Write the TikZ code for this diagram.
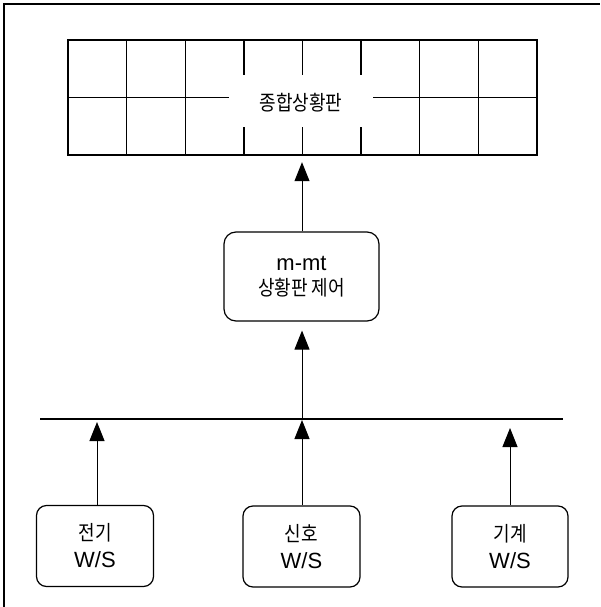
\documentclass[tikz,border=0pt]{standalone}
\usepackage{fontspec}
\usepackage{graphicx}
\setmainfont{Liberation Sans}
\newfontfamily\cjk{Noto Sans CJK KR}
\newcommand\kr[1]{{\cjk\fontsize{18}{18}\selectfont\scalebox{1}[1.15]{#1}}}
\usetikzlibrary{arrows.meta}
\begin{document}
\begin{tikzpicture}[x=1pt,y=-1pt,
  wsbox/.style={draw, rounded corners=10pt, line width=1.2pt, minimum width=117pt, minimum height=81pt, align=center, inner sep=0pt, font=\fontsize{22}{27}\selectfont},
  ctrlbox/.style={draw, rounded corners=12pt, line width=1.2pt, minimum width=155pt, minimum height=89pt, align=center, inner sep=0pt, font=\fontsize{22}{25}\selectfont},
  arr/.style={-{Triangle[length=19pt,width=15pt]}, line width=1pt},
  gridline/.style={line width=1.3pt},
  thinline/.style={line width=1.1pt}
]
\useasboundingbox (0,0) rectangle (600,607);
% frame
\draw[thinline] (4,607) -- (4,4) -- (600,4);
% board grid
\draw[gridline] (68,40) rectangle (537,155);
\foreach \x in {126.6,185.25,419.75,478.4} \draw[gridline] (\x,40) -- (\x,155);
\foreach \x in {243.9,302.5,361.1} {
  \draw[gridline] (\x,40) -- (\x,75);
  \draw[gridline] (\x,127) -- (\x,155);
}
\draw[gridline] (68,97.5) -- (229,97.5);
\draw[gridline] (373,97.5) -- (537,97.5);
\node[minimum width=469pt, minimum height=115pt, inner sep=0pt] (board) at (302.5,97.5) {};
\node (boardtext) at (301,103) {\kr{종합상황판}};
% controller
\node[ctrlbox] (ctrl) at (301.5,276.5) {m-mt\\\kr{상황판 제어}};
% bus
\coordinate (busW) at (40,419);
\coordinate (busE) at (563,419);
\draw[thinline] (busW) -- (busE);
\coordinate (b1) at (97,419);
\coordinate (b2) at (302,419);
\coordinate (b3) at (510,419);
% workstations
\node[wsbox] (ws1) at (95,546) {\kr{전기}\\W/S};
\node[wsbox] (ws2) at (301.5,546.5) {\kr{신호}\\W/S};
\node[wsbox, minimum width=116pt] (ws3) at (510,546.5) {\kr{기계}\\W/S};
% arrows
\draw[arr, shorten >=7pt] (ctrl.north -| b2) -- (b2 |- board.south);
\draw[arr, shorten >=9pt] (b2) -- (b2 |- ctrl.south);
\draw[arr, shorten >=3pt] (b1 |- ws1.north) -- (b1);
\draw[arr, shorten >=1pt] (b2 |- ws2.north) -- (b2);
\draw[arr, shorten >=9pt] (b3 |- ws3.north) -- (b3);
\end{tikzpicture}
\end{document}
